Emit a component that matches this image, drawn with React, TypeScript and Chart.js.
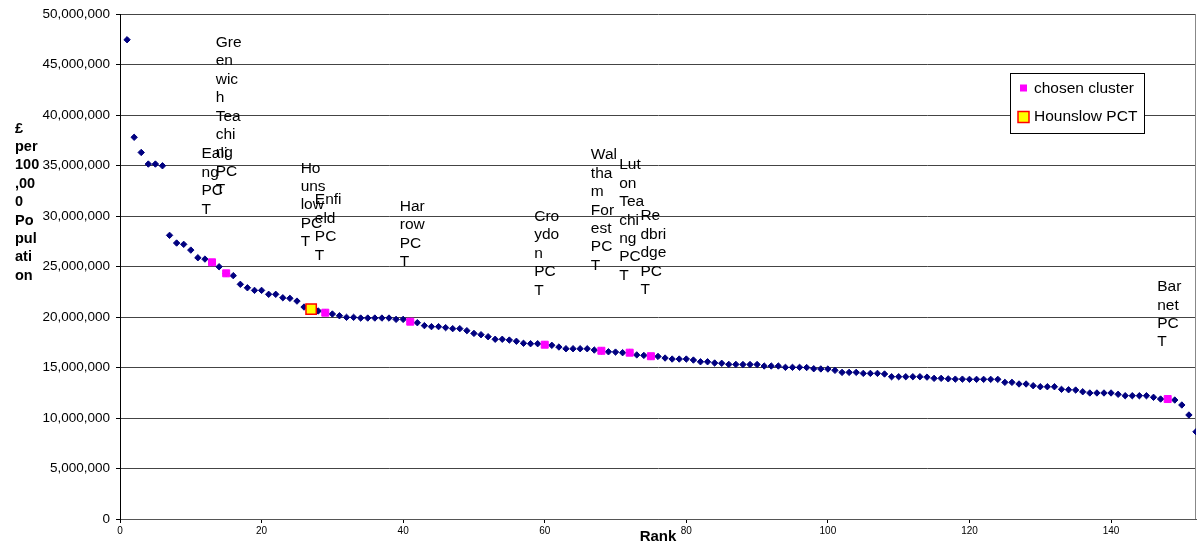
import React, { useEffect, useRef } from "react";
import { Chart, registerables } from "chart.js";

Chart.register(...registerables);

const FONT = "'Liberation Sans', Arial, sans-serif";

// £ per 100,000 population, ordered by rank (rank = position in list, 1-based)
const costPerPopulation = [
  47460000, 37800000, 36300000, 35150000, 35150000, 34980000, 28090000, 27330000, 27200000, 26630000,
  25870000, 25740000, 25420000, 24980000, 24330000, 24100000, 23240000, 22900000, 22640000, 22640000,
  22250000, 22250000, 21910000, 21850000, 21580000, 20990000, 20790000, 20600000, 20430000, 20300000,
  20130000, 19970000, 19970000, 19900000, 19900000, 19900000, 19900000, 19900000, 19770000, 19770000,
  19540000, 19440000, 19150000, 19050000, 19050000, 18950000, 18850000, 18850000, 18650000, 18380000,
  18250000, 18050000, 17800000, 17800000, 17720000, 17600000, 17400000, 17360000, 17360000, 17260000,
  17200000, 17030000, 16860000, 16860000, 16860000, 16860000, 16730000, 16660000, 16560000, 16530000,
  16470000, 16470000, 16250000, 16200000, 16120000, 16100000, 15940000, 15840000, 15840000, 15840000,
  15740000, 15570000, 15570000, 15450000, 15420000, 15310000, 15310000, 15300000, 15300000, 15300000,
  15150000, 15150000, 15150000, 15020000, 15020000, 15020000, 15000000, 14880000, 14860000, 14850000,
  14720000, 14520000, 14520000, 14520000, 14420000, 14420000, 14420000, 14360000, 14090000, 14090000,
  14090000, 14090000, 14090000, 14050000, 13930000, 13930000, 13880000, 13850000, 13850000, 13830000,
  13830000, 13830000, 13830000, 13830000, 13530000, 13530000, 13370000, 13370000, 13200000, 13100000,
  13100000, 13100000, 12840000, 12800000, 12770000, 12600000, 12480000, 12480000, 12480000, 12480000,
  12350000, 12210000, 12210000, 12210000, 12210000, 12050000, 11880000, 11880000, 11780000, 11290000,
  10300000, 8640000,
];

const chosenNames = [
  "Ealing PCT",
  "Greenwich Teaching PCT",
  "Enfield PCT",
  "Harrow PCT",
  "Croydon PCT",
  "Waltham Forest PCT",
  "Luton Teaching PCT",
  "Redbridge PCT",
  "Barnet PCT",
];
const chosenRanks = [13, 15, 29, 41, 60, 68, 72, 75, 148];
// value at which the first line of each data label sits
const chosenLabelTops = [36140000, 47160000, 31580000, 30920000, 29930000, 36040000, 35050000, 30000000, 22990000];

const hounslowName = "Hounslow PCT";
const hounslowRank = 27;
const hounslowLabelTop = 34730000;

const yTitle = "£ per 100,000 Population";
const xTitle = "Rank";
const legendLabels = ["chosen cluster", "Hounslow PCT"];

const X_MAX = 152;
const X_STEP = 20;
const Y_MAX = 50000000;
const Y_STEP = 5000000;

function wrapText(ctx: CanvasRenderingContext2D, text: string, maxW: number): string[] {
  const words = text.split(" ");
  const lines: string[] = [];
  let cur = "";
  for (const w of words) {
    const cand = cur ? cur + " " + w : w;
    if (ctx.measureText(cand).width <= maxW) {
      cur = cand;
      continue;
    }
    if (cur) {
      lines.push(cur);
      cur = "";
    }
    let piece = "";
    for (const ch of w) {
      if (piece && ctx.measureText(piece + ch).width > maxW) {
        lines.push(piece);
        piece = ch;
      } else {
        piece += ch;
      }
    }
    cur = piece;
  }
  if (cur) lines.push(cur);
  return lines;
}

const LABEL_SIZE = 15.5;
const LINE_H = 18.4;

const decorPlugin = {
  id: "decor",
  beforeDatasetsDraw(chart: any) {
    const { ctx, chartArea } = chart;
    ctx.save();
    ctx.strokeStyle = "#888";
    ctx.lineWidth = 1;
    ctx.beginPath();
    ctx.moveTo(Math.round(chartArea.right) - 0.5, chartArea.top);
    ctx.lineTo(Math.round(chartArea.right) - 0.5, chartArea.bottom);
    ctx.stroke();
    ctx.restore();
  },
  afterDatasetsDraw(chart: any) {
    const { ctx, scales } = chart;
    const xs = scales.x;
    const ys = scales.y;
    ctx.save();
    ctx.font = `${LABEL_SIZE}px ${FONT}`;
    ctx.fillStyle = "#000";
    ctx.textAlign = "left";
    ctx.textBaseline = "middle";
    const items = chosenNames.map((n, i) => ({ name: n, rank: chosenRanks[i], top: chosenLabelTops[i] }));
    items.push({ name: hounslowName, rank: hounslowRank, top: hounslowLabelTop });
    for (const it of items) {
      const px = xs.getPixelForValue(it.rank);
      const py = ys.getPixelForValue(it.top);
      const lines = wrapText(ctx, it.name, LABEL_SIZE * 1.78);
      lines.forEach((l, i) => ctx.fillText(l, px - 10.5, py + i * LINE_H));
    }
    ctx.restore();
  },
  afterDraw(chart: any) {
    const { ctx, chartArea } = chart;
    ctx.save();
    // y axis title (horizontal, wrapped)
    ctx.font = `bold 14.5px ${FONT}`;
    ctx.fillStyle = "#000";
    ctx.textAlign = "left";
    ctx.textBaseline = "middle";
    const tl = wrapText(ctx, yTitle, 14.5 * 1.72);
    tl.forEach((l, i) => ctx.fillText(l, 15, 128.5 + i * 18.4));

    // legend
    const bx = Math.round(chartArea.right) - 185.5;
    const by = 73.5;
    const bw = 134;
    const bh = 60;
    ctx.fillStyle = "#fff";
    ctx.fillRect(bx, by, bw, bh);
    ctx.strokeStyle = "#000";
    ctx.lineWidth = 1;
    ctx.strokeRect(bx, by, bw, bh);
    // entry 1
    ctx.fillStyle = "#FF00FF";
    ctx.fillRect(bx + 9.5, 84.5, 7, 7);
    // entry 2
    ctx.fillStyle = "#FFFF00";
    ctx.fillRect(bx + 7.5, 111.5, 11, 11);
    ctx.strokeStyle = "#FF0000";
    ctx.lineWidth = 1.5;
    ctx.strokeRect(bx + 7.5, 111.5, 11, 11);
    ctx.fillStyle = "#000";
    ctx.font = `${LABEL_SIZE}px ${FONT}`;
    ctx.fillText(legendLabels[0], bx + 23.5, 88.5);
    ctx.fillText(legendLabels[1], bx + 23.5, 117);
    ctx.restore();
  },
};

export default function App() {
  const ref = useRef<HTMLCanvasElement>(null);
  useEffect(() => {
    if (!ref.current) return;
    const allPoints = costPerPopulation.map((v, i) => ({ x: i + 1, y: v }));
    const chosenPoints = chosenRanks.map((r) => ({ x: r, y: costPerPopulation[r - 1] }));
    const hounslowPoints = [{ x: hounslowRank, y: costPerPopulation[hounslowRank - 1] }];
    const chart = new Chart(ref.current, {
      type: "scatter",
      data: {
        datasets: [
          {
            label: legendLabels[1],
            data: hounslowPoints,
            order: 0,
            pointStyle: "rect",
            pointRadius: 7.3,
            backgroundColor: "#FFFF00",
            borderColor: "#FF0000",
            borderWidth: 1.5,
          },
          {
            label: legendLabels[0],
            data: chosenPoints,
            order: 1,
            pointStyle: "rect",
            pointRadius: 4.95,
            backgroundColor: "#FF00FF",
            borderColor: "#FF00FF",
            borderWidth: 1,
          },
          {
            label: "All PCTs",
            data: allPoints,
            order: 2,
            pointStyle: "rectRot",
            pointRadius: 3.2,
            backgroundColor: "#000080",
            borderColor: "#000080",
            borderWidth: 1,
          },
        ],
      },
      options: {
        responsive: false,
        animation: false,
        devicePixelRatio: 1,
        layout: { autoPadding: false, padding: { top: 14, right: 1, left: 0, bottom: 0 } },
        plugins: { legend: { display: false }, tooltip: { enabled: false } },
        scales: {
          x: {
            type: "linear",
            min: 0,
            max: X_MAX,
            afterFit: (s: any) => {
              s.height = 27;
              s.paddingLeft = 0;
              s.paddingRight = 0;
            },
            ticks: {
              stepSize: X_STEP,
              includeBounds: false,
              font: { size: 10, family: FONT },
              color: "#000",
              padding: 2,
              maxRotation: 0,
            },
            grid: { drawOnChartArea: false, drawTicks: true, tickLength: 4, color: "#000" },
            border: { display: true, color: "#555" },
            title: {
              display: true,
              text: xTitle,
              font: { size: 15, weight: "bold", family: FONT },
              color: "#000",
              padding: 0,
            },
          },
          y: {
            type: "linear",
            min: 0,
            max: Y_MAX,
            afterFit: (s: any) => {
              s.width = 120;
            },
            ticks: {
              stepSize: Y_STEP,
              font: { size: 13.5, family: FONT },
              color: "#000",
              padding: 6,
              callback: (v: any) => Number(v).toLocaleString("en-US"),
            },
            grid: { color: "#444", tickColor: "#000", tickLength: 4, drawTicks: true },
            border: { display: true, color: "#000" },
          },
        },
      },
      plugins: [decorPlugin],
    } as any);
    return () => chart.destroy();
  }, []);
  return (
    <div style={{ position: "absolute", left: 0, top: 0, width: 1197, height: 546, background: "#fff" }}>
      <canvas ref={ref} width={1197} height={546} style={{ display: "block" }} />
    </div>
  );
}
